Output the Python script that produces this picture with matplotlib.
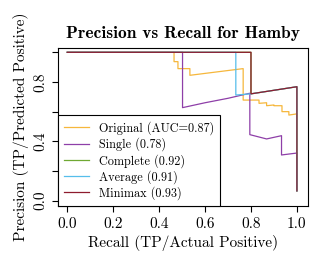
import numpy as np
import matplotlib
matplotlib.use('Agg')
import matplotlib.pyplot as plt

plt.rcParams['font.family'] = 'serif'
plt.rcParams['font.serif'] = ['cmr10']
plt.rcParams['mathtext.fontset'] = 'cm'
plt.rcParams['axes.formatter.use_mathtext'] = True

# recall / precision points
orig_r = [0.0, 0.465, 0.465, 0.482, 0.482, 0.534, 0.534, 0.766, 0.766, 0.835, 0.835,
          0.868, 0.868, 0.90, 0.90, 0.935, 0.935, 0.965, 0.965, 1.0, 1.0]
orig_p = [1.0, 1.0, 0.937, 0.937, 0.89, 0.89, 0.845, 0.89, 0.678, 0.678, 0.656,
          0.66, 0.64, 0.645, 0.64, 0.64, 0.60, 0.60, 0.577, 0.585, 0.07]
single_r = [0.0, 0.502, 0.502, 0.60, 0.70, 0.795, 0.795, 0.868, 0.933, 0.933, 1.0, 1.0]
single_p = [1.0, 1.0, 0.627, 0.66, 0.69, 0.724, 0.445, 0.416, 0.438, 0.308, 0.321, 0.07]
complete_r = [0.0, 0.80, 0.80, 1.0, 1.0]
complete_p = [1.0, 1.0, 0.72, 0.768, 0.065]
average_r = [0.0, 0.734, 0.734, 0.80, 1.0, 1.0]
average_p = [1.0, 1.0, 0.712, 0.72, 0.768, 0.065]
minimax_r = [0.0, 0.80, 0.80, 1.0, 1.0]
minimax_p = [1.0, 1.0, 0.72, 0.768, 0.065]

labels = ['Original (AUC=0.87)', 'Single (0.78)', 'Complete (0.92)',
          'Average (0.91)', 'Minimax (0.93)']
colors = ['#F6B73C', '#8E3FA8', '#6FA832', '#56BEEB', '#8E1B2E']

fig = plt.figure(figsize=(3.1, 2.56), dpi=100)
ax = fig.add_axes([58.3/310, 50/256, 249.4/310, 158/256])

series = [(orig_r, orig_p), (single_r, single_p), (complete_r, complete_p),
          (average_r, average_p), (minimax_r, minimax_p)]
for (r, p), lab, c in zip(series, labels, colors):
    ax.plot(r, p, color=c, lw=0.9, label=lab)

ax.set_xlim(-0.039, 1.047)
ax.set_ylim(-0.036, 1.029)
ax.set_xticks([0, 0.2, 0.4, 0.6, 0.8, 1.0])
ax.set_xticklabels(['0.0', '0.2', '0.4', '0.6', '0.8', '1.0'], fontsize=11)
ax.set_yticks([0, 0.2, 0.4, 0.6, 0.8, 1.0])
ax.set_yticklabels(['0.0', '', '0.4', '', '0.8', ''], fontsize=11,
                   rotation=90, va='center')
ax.tick_params(length=4, width=0.8, pad=4)

ax.set_xlabel('Recall (TP/Actual Positive)', fontsize=11, labelpad=3)
ax.set_ylabel('Precision (TP/Predicted Positive)', fontsize=11, labelpad=3)
ax.set_title('Precision vs Recall for Hamby', fontsize=12.5,
             fontfamily='cmb10', pad=7)

leg = ax.legend(loc='lower left', fontsize=8.8, fancybox=False, framealpha=1,
                edgecolor='black', borderaxespad=0, labelspacing=0.2,
                borderpad=0.5)
leg.get_frame().set_linewidth(0.8)

fig.savefig('out.png', dpi=100)
